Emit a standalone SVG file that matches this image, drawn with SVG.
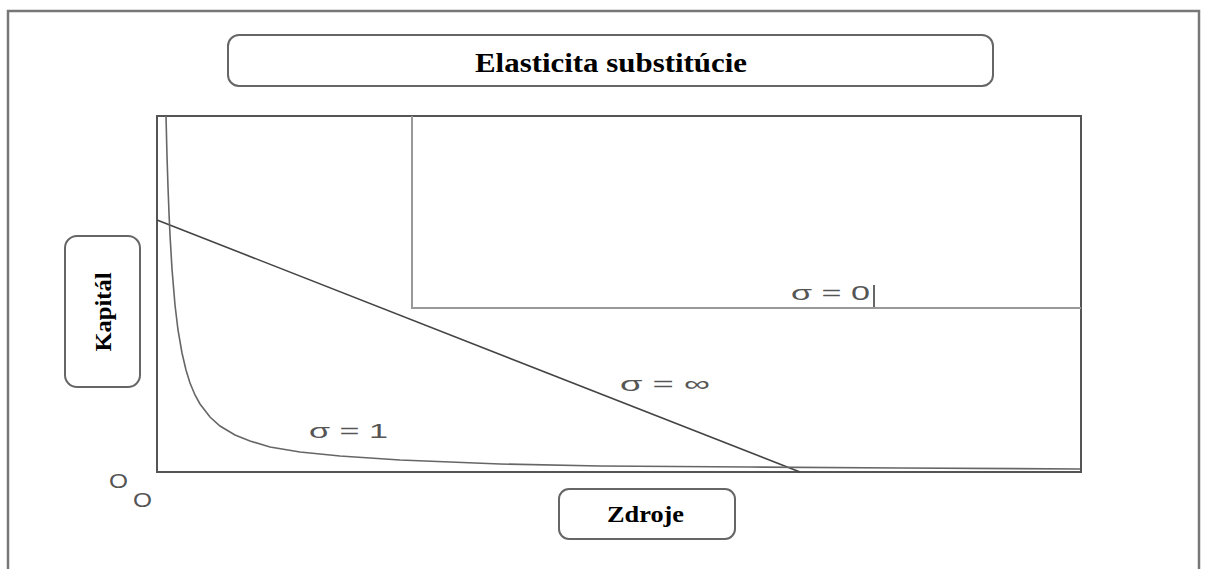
<svg xmlns="http://www.w3.org/2000/svg" width="1209" height="569" viewBox="0 0 1209 569">
<style>
.box{fill:#fff;stroke:#666;stroke-width:2}
.lbl{font-family:"Liberation Serif","Times New Roman",serif;font-weight:bold;fill:#000}
.sig{font-family:"Liberation Sans",Arial,sans-serif;fill:#555;font-size:21px}
.axis{fill:none;stroke:#555;stroke-width:2}
</style>
<rect x="0" y="0" width="1209" height="569" fill="#fff"/>
<rect x="8" y="11" width="1191" height="600" fill="none" stroke="#777" stroke-width="2.5"/>
<g id="title"><rect class="box" x="228" y="35" width="765" height="51" rx="11"/>
<text class="lbl" x="475" y="72" font-size="28" textLength="272" lengthAdjust="spacingAndGlyphs">Elasticita substitúcie</text></g>
<g id="kapital"><rect class="box" x="65" y="236" width="75" height="151" rx="12"/>
<text class="lbl" x="0" y="0" font-size="24" text-anchor="middle" textLength="79" lengthAdjust="spacingAndGlyphs" transform="translate(111,312) rotate(-90)">Kapitál</text></g>
<g id="zdroje"><rect class="box" x="559" y="489" width="176" height="50" rx="10"/>
<text class="lbl" x="607" y="522" font-size="23" textLength="77" lengthAdjust="spacingAndGlyphs">Zdroje</text></g>
<g id="plot">
<rect class="axis" x="157" y="116" width="924" height="356"/>
</g>
<g id="connectors">
<polyline fill="none" stroke="#999" stroke-width="2" points="412,116 412,308 1081,308"/>
<line x1="157" y1="220" x2="800" y2="472" stroke="#444" stroke-width="1.6"/>
<polyline fill="none" stroke="#666" stroke-width="1.6" points="166,116 167,156 168,187 169,213 170,235 172,269 175,305 178,330 182,353 186,370 190,383 195,395 200,404 210,417 220,426 235,435 250,441 270,447 300,452 340,456 400,460 500,464 600,466 750,467 900,468 1080,469"/>
<line x1="874" y1="285" x2="874" y2="307" stroke="#333" stroke-width="1.5"/>
</g>
<g id="labels">
<text class="sig" x="309" y="438" textLength="79" lengthAdjust="spacingAndGlyphs">σ = 1</text>
<text class="sig" x="620" y="391" textLength="90" lengthAdjust="spacingAndGlyphs">σ = ∞</text>
<text class="sig" x="791" y="300" textLength="79" lengthAdjust="spacingAndGlyphs">σ = 0</text>
<text class="sig" x="109" y="488" textLength="19" lengthAdjust="spacingAndGlyphs">O</text>
<text class="sig" x="133" y="507" textLength="19" lengthAdjust="spacingAndGlyphs">O</text>
</g>
</svg>
